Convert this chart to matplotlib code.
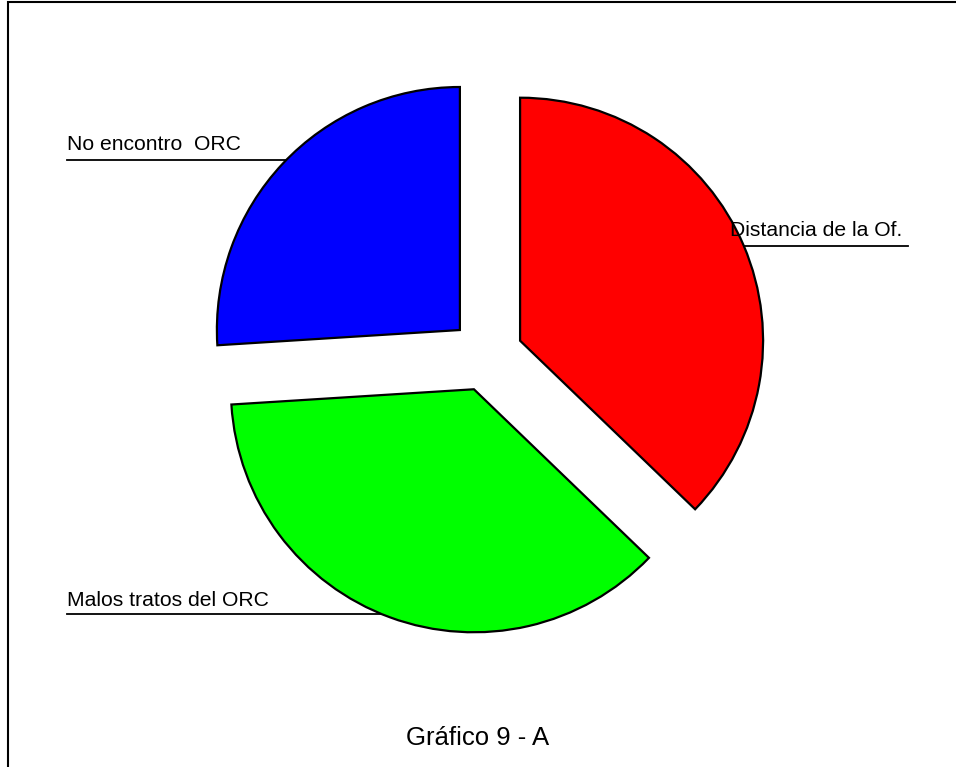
import matplotlib.pyplot as plt
from matplotlib.patches import Rectangle

# datos (en sentido horario desde arriba)
categorias = ['Distancia de la Of.', 'Malos tratos del ORC', 'No encontro  ORC']
valores = [37.2, 36.8, 26.0]
colores = ['#FF0000', '#00FF00', '#0000FF']
titulo = 'Gráfico 9 - A'

plt.rcParams['font.family'] = ['Liberation Sans', 'DejaVu Sans']

fig = plt.figure(figsize=(9.56, 7.67), dpi=100)
ax = fig.add_axes([0, 0, 1, 1])

# el desplazamiento (explode) va en unidades de datos (pixeles aqui)
ax.pie(valores, colors=colores, startangle=90, counterclock=False,
       explode=[36.5] * 3, center=(486.5, 412), radius=243,
       wedgeprops=dict(edgecolor='black', linewidth=1.6))

ax.set_xlim(0, 956)
ax.set_ylim(0, 767)
ax.set_aspect('auto')
ax.axis('off')

# etiquetas subrayadas (las lineas quedan debajo de las porciones)
ax.text(67, 767 - 145, categorias[2], fontsize=15.2, va='center', ha='left')
ax.plot([67, 300], [767 - 160, 767 - 160], color='black', lw=1.3, zorder=0.5)

ax.text(67, 767 - 601, categorias[1], fontsize=15.2, va='center', ha='left')
ax.plot([67, 400], [767 - 614, 767 - 614], color='black', lw=1.3, zorder=0.5)

ax.text(730, 767 - 231, categorias[0], fontsize=15.2, va='center', ha='left')
ax.plot([730, 908], [767 - 246, 767 - 246], color='black', lw=1.3, zorder=0.5)

ax.text(478, 767 - 738, titulo, fontsize=18.5, va='center', ha='center')

# marco
fig.patches.append(Rectangle((8 / 956, -0.1), 1.2, (765 / 767) + 0.1,
                             transform=fig.transFigure, fill=False,
                             edgecolor='black', linewidth=1.5))

plt.savefig('out.png', dpi=100)
